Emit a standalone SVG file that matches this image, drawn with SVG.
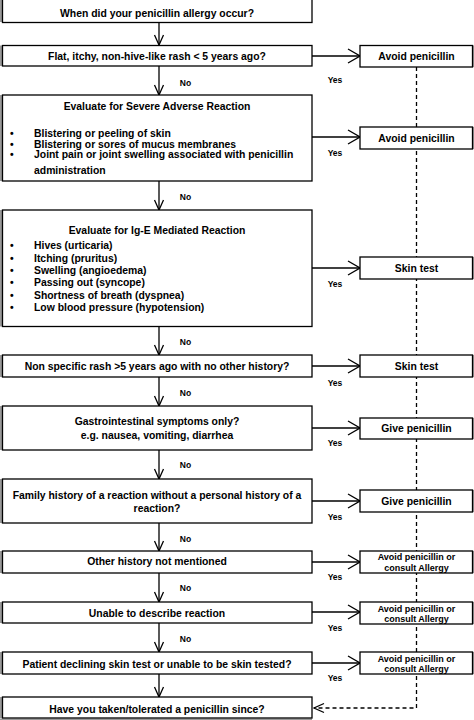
<svg xmlns="http://www.w3.org/2000/svg" width="474" height="720" viewBox="0 0 474 720">
<defs>
<style>
.bx{fill:#fff;stroke:#000;stroke-width:1.3}
.edge{fill:#999;stroke:none}
.t{font-family:"Liberation Sans",Arial,sans-serif;font-weight:bold;font-size:10.4px;fill:#000}
.c{text-anchor:middle}
.s{font-family:"Liberation Sans",Arial,sans-serif;font-weight:bold;font-size:9px;fill:#000;text-anchor:middle}
.lb{font-family:"Liberation Sans",Arial,sans-serif;font-weight:bold;font-size:8.5px;fill:#000;text-anchor:middle}
.ln{fill:none;stroke:#000;stroke-width:1.3}
.dash{fill:none;stroke:#000;stroke-width:1.3;stroke-dasharray:4,3}
</style>
<marker id="ad" viewBox="0 0 12 12" refX="11" refY="6" markerWidth="12" markerHeight="12" markerUnits="userSpaceOnUse" orient="auto">
<path d="M1,1.5 L11,6 L1,10.5" fill="none" stroke="#000" stroke-width="1.3"/>
</marker>
<marker id="ah" viewBox="0 0 14 16" refX="13" refY="8" markerWidth="14" markerHeight="16" markerUnits="userSpaceOnUse" orient="auto">
<path d="M1,1 L13,8 L1,15" fill="none" stroke="#000" stroke-width="1.3"/>
</marker>
</defs>
<rect x="0" y="0" width="474" height="720" fill="#fff"/>

<g id="connectors">
<path class="dash" d="M416.5,67 V708 H314" marker-end="url(#ad)"/>
<line class="ln" x1="159" y1="22.5" x2="159" y2="45" marker-end="url(#ad)"/>
<line class="ln" x1="159" y1="66" x2="159" y2="95" marker-end="url(#ad)"/>
<line class="ln" x1="159" y1="181" x2="159" y2="210" marker-end="url(#ad)"/>
<line class="ln" x1="159" y1="326.5" x2="159" y2="355" marker-end="url(#ad)"/>
<line class="ln" x1="159" y1="377" x2="159" y2="406" marker-end="url(#ad)"/>
<line class="ln" x1="159" y1="450" x2="159" y2="479" marker-end="url(#ad)"/>
<line class="ln" x1="159" y1="523" x2="159" y2="551" marker-end="url(#ad)"/>
<line class="ln" x1="159" y1="573" x2="159" y2="602" marker-end="url(#ad)"/>
<line class="ln" x1="159" y1="623" x2="159" y2="652" marker-end="url(#ad)"/>
<line class="ln" x1="159" y1="674" x2="159" y2="697" marker-end="url(#ad)"/>
<line class="ln" x1="312" y1="56" x2="360" y2="56" marker-end="url(#ah)"/>
<line class="ln" x1="312" y1="137" x2="360" y2="137" marker-end="url(#ah)"/>
<line class="ln" x1="312" y1="268" x2="360" y2="268" marker-end="url(#ah)"/>
<line class="ln" x1="312" y1="366" x2="360" y2="366" marker-end="url(#ah)"/>
<line class="ln" x1="312" y1="428" x2="360" y2="428" marker-end="url(#ah)"/>
<line class="ln" x1="312" y1="501" x2="360" y2="501" marker-end="url(#ah)"/>
<line class="ln" x1="312" y1="562" x2="360" y2="562" marker-end="url(#ah)"/>
<line class="ln" x1="312" y1="612" x2="360" y2="612" marker-end="url(#ah)"/>
<line class="ln" x1="312" y1="663" x2="360" y2="663" marker-end="url(#ah)"/>
<text class="lb" x="335" y="83">Yes</text>
<text class="lb" x="335" y="156">Yes</text>
<text class="lb" x="335" y="287">Yes</text>
<text class="lb" x="335" y="386">Yes</text>
<text class="lb" x="335" y="446">Yes</text>
<text class="lb" x="335" y="520">Yes</text>
<text class="lb" x="335" y="580">Yes</text>
<text class="lb" x="335" y="631">Yes</text>
<text class="lb" x="335" y="681">Yes</text>
<text class="lb" x="185.5" y="86">No</text>
<text class="lb" x="185.5" y="200">No</text>
<text class="lb" x="185.5" y="345">No</text>
<text class="lb" x="185.5" y="396">No</text>
<text class="lb" x="185.5" y="468">No</text>
<text class="lb" x="185.5" y="542">No</text>
<text class="lb" x="185.5" y="590.5">No</text>
<text class="lb" x="185.5" y="642">No</text>
</g>

<g id="q1"><rect class="edge" x="0" y="0" width="2" height="22"/><rect class="bx" x="2.5" y="-1" width="309.5" height="23.5"/><text class="t c" x="157" y="16.7">When did your penicillin allergy occur?</text></g>
<g id="q2"><rect class="edge" x="0" y="45.5" width="2" height="20.5"/><rect class="bx" x="2.5" y="45.5" width="309.5" height="20.5"/><text class="t c" x="157" y="59.6">Flat, itchy, non-hive-like rash &lt; 5 years ago?</text></g>
<g id="q3"><rect class="edge" x="0" y="95" width="2" height="86"/><rect class="bx" x="2.5" y="95" width="309.5" height="86"/>
<text class="t c" x="157" y="109.6">Evaluate for Severe Adverse Reaction</text>
<text class="t" x="10" y="137">•</text><text class="t" x="34" y="137">Blistering or peeling of skin</text>
<text class="t" x="10" y="147.5">•</text><text class="t" x="34" y="147.5">Blistering or sores of mucus membranes</text>
<text class="t" x="10" y="158">•</text><text class="t" x="34" y="158">Joint pain or joint swelling associated with penicillin</text>
<text class="t" x="34" y="174.3">administration</text></g>
<g id="q4"><rect class="edge" x="0" y="210" width="2" height="116.5"/><rect class="bx" x="2.5" y="210" width="309.5" height="116.5"/>
<text class="t c" x="157" y="233.6">Evaluate for Ig-E Mediated Reaction</text>
<text class="t" x="10" y="249.1">•</text><text class="t" x="34" y="249.1">Hives (urticaria)</text>
<text class="t" x="10" y="261.5">•</text><text class="t" x="34" y="261.5">Itching (pruritus)</text>
<text class="t" x="10" y="273.9">•</text><text class="t" x="34" y="273.9">Swelling (angioedema)</text>
<text class="t" x="10" y="286.3">•</text><text class="t" x="34" y="286.3">Passing out (syncope)</text>
<text class="t" x="10" y="298.7">•</text><text class="t" x="34" y="298.7">Shortness of breath (dyspnea)</text>
<text class="t" x="10" y="311.1">•</text><text class="t" x="34" y="311.1">Low blood pressure (hypotension)</text></g>
<g id="q5"><rect class="edge" x="0" y="355" width="2" height="22"/><rect class="bx" x="2.5" y="355" width="309.5" height="22"/><text class="t c" x="157" y="370.2">Non specific rash &gt;5 years ago with no other history?</text></g>
<g id="q6"><rect class="edge" x="0" y="406" width="2" height="44"/><rect class="bx" x="2.5" y="406" width="309.5" height="44"/><text class="t c" x="157" y="425">Gastrointestinal symptoms only?</text><text class="t c" x="157" y="438.5">e.g. nausea, vomiting, diarrhea</text></g>
<g id="q7"><rect class="edge" x="0" y="479" width="2" height="44"/><rect class="bx" x="2.5" y="479" width="309.5" height="44"/><text class="t c" x="157" y="498.5">Family history of a reaction without a personal history of a</text><text class="t c" x="157" y="511.5">reaction?</text></g>
<g id="q8"><rect class="edge" x="0" y="551" width="2" height="22"/><rect class="bx" x="2.5" y="551" width="309.5" height="22"/><text class="t c" x="157" y="565.2">Other history not mentioned</text></g>
<g id="q9"><rect class="edge" x="0" y="602" width="2" height="21"/><rect class="bx" x="2.5" y="602" width="309.5" height="21"/><text class="t c" x="157" y="616.5">Unable to describe reaction</text></g>
<g id="q10"><rect class="edge" x="0" y="652" width="2" height="22"/><rect class="bx" x="2.5" y="652" width="309.5" height="22"/><text class="t c" x="157" y="667.5">Patient declining skin test or unable to be skin tested?</text></g>
<g id="q11"><rect class="edge" x="0" y="697" width="2" height="21"/><rect class="edge" x="0" y="718.5" width="312" height="1.5"/><rect class="bx" x="2.5" y="697" width="309.5" height="21"/><text class="t c" x="157" y="712.5">Have you taken/tolerated a penicillin since?</text></g>

<g id="r1"><rect class="edge" x="473" y="45.5" width="1" height="21.5"/><rect class="bx" x="360" y="45.5" width="112.5" height="21.5"/><text class="t c" x="416.5" y="59.6">Avoid penicillin</text></g>
<g id="r2"><rect class="edge" x="473" y="127" width="1" height="22"/><rect class="bx" x="360" y="127" width="112.5" height="22"/><text class="t c" x="416.5" y="141.6">Avoid penicillin</text></g>
<g id="r3"><rect class="edge" x="473" y="257" width="1" height="22"/><rect class="bx" x="360" y="257" width="112.5" height="22"/><text class="t c" x="416.5" y="271.6">Skin test</text></g>
<g id="r4"><rect class="edge" x="473" y="355" width="1" height="22"/><rect class="bx" x="360" y="355" width="112.5" height="22"/><text class="t c" x="416.5" y="369.8">Skin test</text></g>
<g id="r5"><rect class="edge" x="473" y="418" width="1" height="21"/><rect class="bx" x="360" y="418" width="112.5" height="21"/><text class="t c" x="416.5" y="432">Give penicillin</text></g>
<g id="r6"><rect class="edge" x="473" y="490" width="1" height="22"/><rect class="bx" x="360" y="490" width="112.5" height="22"/><text class="t c" x="416.5" y="504.6">Give penicillin</text></g>
<g id="r7"><rect class="edge" x="473" y="551" width="1" height="22"/><rect class="bx" x="360" y="551" width="112.5" height="22"/><text class="s" x="416.5" y="560.3">Avoid penicillin or</text><text class="s" x="416.5" y="571">consult Allergy</text></g>
<g id="r8"><rect class="edge" x="473" y="602" width="1" height="22"/><rect class="bx" x="360" y="602" width="112.5" height="22"/><text class="s" x="416.5" y="611.5">Avoid penicillin or</text><text class="s" x="416.5" y="621.6">consult Allergy</text></g>
<g id="r9"><rect class="edge" x="473" y="652" width="1" height="22"/><rect class="bx" x="360" y="652" width="112.5" height="22"/><text class="s" x="416.5" y="661.5">Avoid penicillin or</text><text class="s" x="416.5" y="672.3">consult Allergy</text></g>
</svg>
